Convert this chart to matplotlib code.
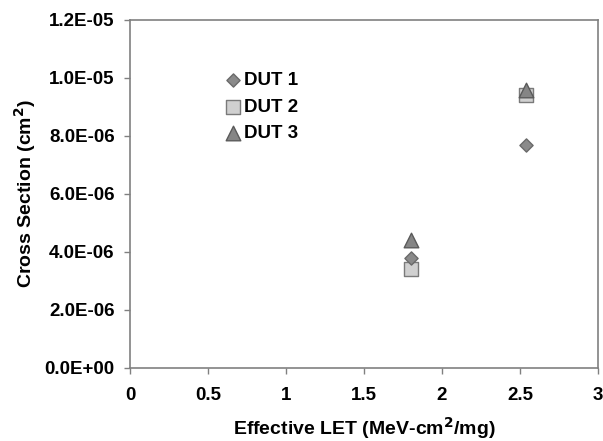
import matplotlib.pyplot as plt

plt.rcParams["font.family"] = ["Liberation Sans", "DejaVu Sans"]
plt.rcParams["font.weight"] = "bold"

# Effective LET (MeV-cm2/mg) and cross section (cm2) per device
let_dut1 = [1.8, 2.54]
xs_dut1 = [3.8e-6, 7.7e-6]
let_dut2 = [1.8, 2.54]
xs_dut2 = [3.4e-6, 9.4e-6]
let_dut3 = [1.8, 2.54]
xs_dut3 = [4.4e-6, 9.6e-6]

x_ticks = [0, 0.5, 1, 1.5, 2, 2.5, 3]
x_labels = ["0", "0.5", "1", "1.5", "2", "2.5", "3"]
y_ticks = [0, 2e-6, 4e-6, 6e-6, 8e-6, 1e-5, 1.2e-5]
y_labels = ["0.0E+00", "2.0E-06", "4.0E-06", "6.0E-06", "8.0E-06", "1.0E-05", "1.2E-05"]

fig = plt.figure(figsize=(6.03, 4.41), dpi=100)
ax = fig.add_axes([130 / 603, 1 - 368 / 441, 468 / 603, 348 / 441])

ax.scatter(let_dut1, xs_dut1, marker="D", s=45, color="#8a8a8a",
           edgecolor="#6a6a6a", linewidth=1, label="DUT 1", zorder=3)
ax.scatter(let_dut2, xs_dut2, marker="s", s=110, color="#d0d0d0",
           edgecolor="#7a7a7a", linewidth=1, label="DUT 2", zorder=2)
ax.scatter(let_dut3, xs_dut3, marker="^", s=110, color="#858585",
           edgecolor="#5a5a5a", linewidth=1, label="DUT 3", zorder=2)

ax.set_xlim(0, 3)
ax.set_ylim(0, 1.2e-5)
ax.set_xticks(x_ticks)
ax.set_xticklabels(x_labels)
ax.set_yticks(y_ticks)
ax.set_yticklabels(y_labels)
ax.tick_params(axis="both", labelsize=13.5, length=4, color="#808080", width=1)
ax.tick_params(axis="x", pad=10)
ax.tick_params(axis="y", pad=7)

for side in ["left", "bottom", "top", "right"]:
    ax.spines[side].set_color("#808080")
    ax.spines[side].set_linewidth(1.2)

ax.set_xlabel("Effective LET (MeV-cm$^\\mathbf{2}$/mg)", fontsize=14,
              fontweight="bold", labelpad=8)
ax.set_ylabel("Cross Section (cm$^\\mathbf{2}$)", fontsize=14,
              fontweight="bold", labelpad=5)

leg = ax.legend(loc="upper left", bbox_to_anchor=(0.2, 0.85), frameon=False,
                fontsize=13.5, handletextpad=0.1, labelspacing=0.5,
                handlelength=1.0, borderaxespad=0, borderpad=0)

fig.savefig("out.png", dpi=100)
